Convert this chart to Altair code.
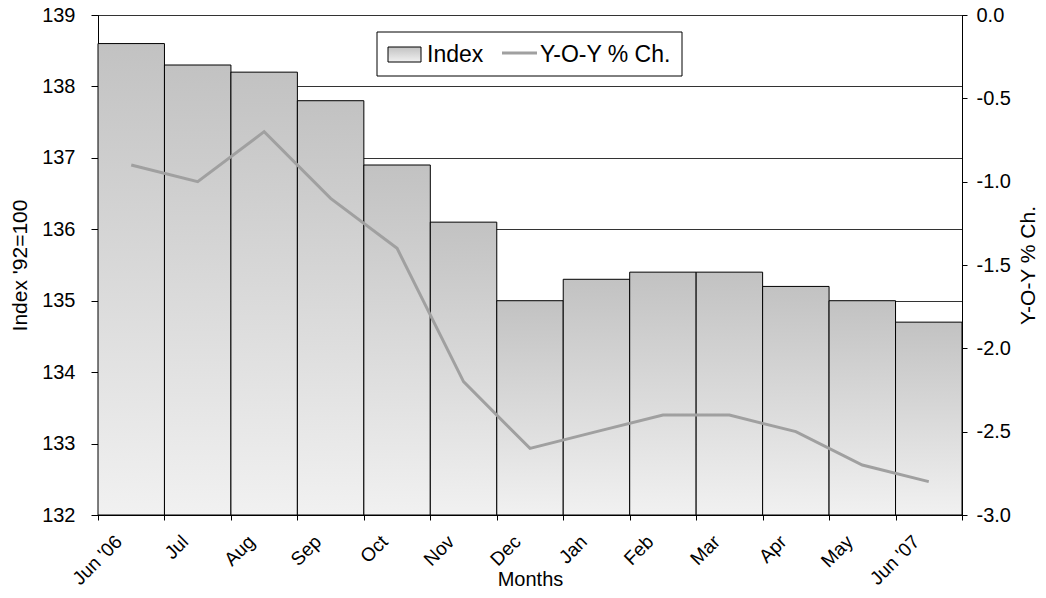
import json
import altair as alt
import pandas as pd

months = ["Jun '06", "Jul", "Aug", "Sep", "Oct", "Nov", "Dec", "Jan", "Feb", "Mar", "Apr", "May", "Jun '07"]
index_vals = [138.6, 138.3, 138.2, 137.8, 136.9, 136.1, 135.0, 135.3, 135.4, 135.4, 135.2, 135.0, 134.7]
yoy_vals = [-0.9, -1.0, -0.7, -1.1, -1.4, -2.2, -2.6, -2.5, -2.4, -2.4, -2.5, -2.7, -2.8]
left_ticks = [132, 133, 134, 135, 136, 137, 138, 139]
right_ticks = [-3.0, -2.5, -2.0, -1.5, -1.0, -0.5, 0.0]
legend_labels = ["Index", "Y-O-Y % Ch."]

df = pd.DataFrame({"month": months, "index": index_vals, "yoy": yoy_vals})
df["x0"] = list(range(len(months)))
df["x1"] = df["x0"] + 1
df["xc"] = df["x0"] + 0.5

leg_df = pd.DataFrame({"label": legend_labels})

FONT = "Liberation Sans"
TICK_FS = 20
TITLE_FS = 21

label_expr = json.dumps(months) + "[datum.value] || ''"

x_scale = alt.Scale(domain=[0, len(months)], nice=False, zero=False)
x_axis = alt.Axis(
    values=list(range(len(months) + 1)), labelExpr=label_expr,
    labelAngle=315, labelAlign="right", labelBaseline="top",
    labelOffset=14, labelPadding=12, tickSize=5, grid=False,
    labelOverlap=False, labelFlush=False,
    title="Months", titleX=432, titleY=54, titleBaseline="top", titleAlign="center",
    titleFontSize=20,
    domainColor="black", tickColor="black",
    labelFontSize=19,
)

left_axis = alt.Axis(
    values=left_ticks, grid=True, gridColor="#333333", gridWidth=1,
    tickSize=7, labelPadding=16, labelFontSize=TICK_FS,
    title="Index '92=100", titleFontSize=TITLE_FS, titleAngle=270,
    titleX=-78, titleY=250, titleAlign="center", titleBaseline="middle",
    domainColor="black", tickColor="black",
)

right_axis = alt.Axis(
    orient="right", values=right_ticks, grid=False,
    labelExpr="replace(format(datum.value, '.1f'), '\u2212', '-')",
    tickSize=5, labelPadding=9, labelFontSize=TICK_FS,
    title="Y-O-Y % Ch.", titleFontSize=TITLE_FS, titleAngle=270,
    titleX=66, titleY=250, titleAlign="center", titleBaseline="middle",
    domainColor="black", tickColor="black",
)

bar_grad = alt.Gradient(
    gradient="linear", x1=0, y1=0, x2=0, y2=1,
    stops=[alt.GradientStop(color="#c2c2c2", offset=0),
           alt.GradientStop(color="#f1f1f1", offset=1)],
)

bars = alt.Chart(df).mark_bar(fill=bar_grad, stroke="black", strokeWidth=1).encode(
    x=alt.X("x0:Q", scale=x_scale, axis=x_axis),
    x2="x1:Q",
    y=alt.Y("index:Q", scale=alt.Scale(domain=[132, 139], nice=False, zero=False), axis=left_axis),
    y2=alt.datum(132),
)

line = alt.Chart(df).mark_line(color="#a0a0a0", strokeWidth=3).encode(
    x=alt.X("xc:Q", scale=x_scale, axis=x_axis),
    y=alt.Y("yoy:Q", scale=alt.Scale(domain=[-3, 0], nice=False, zero=False), axis=right_axis),
)

first = alt.Chart(leg_df).transform_filter(alt.datum.label == legend_labels[0])
second = alt.Chart(leg_df).transform_filter(alt.datum.label == legend_labels[1])

leg_box = first.mark_rect(fill="white", stroke="black", strokeWidth=1).encode(
    x=alt.value(279), x2=alt.value(584), y=alt.value(17), y2=alt.value(61)
)
leg_sym = first.mark_rect(fill=bar_grad, stroke="black", strokeWidth=1).encode(
    x=alt.value(290), x2=alt.value(323), y=alt.value(32), y2=alt.value(47)
)
leg_txt1 = first.mark_text(align="left", baseline="alphabetic", fontSize=23, font=FONT, color="black").encode(
    x=alt.value(329), y=alt.value(47), text="label:N"
)
leg_line = second.mark_rule(color="#a0a0a0", strokeWidth=3).encode(
    x=alt.value(404), x2=alt.value(439), y=alt.value(38)
)
leg_txt2 = second.mark_text(align="left", baseline="alphabetic", fontSize=23, font=FONT, color="black").encode(
    x=alt.value(442), y=alt.value(47), text="label:N"
)

chart = alt.layer(bars, line, leg_box, leg_sym, leg_txt1, leg_line, leg_txt2).resolve_scale(
    y="independent"
).properties(
    width=864, height=500,
    autosize=alt.AutoSizeParams(type="none"),
    padding={"left": 90, "top": 7, "right": 76, "bottom": 75},
    background="white",
).configure_view(
    stroke="black", strokeWidth=1
).configure_axis(
    labelFont=FONT, titleFont=FONT, labelColor="black", titleColor="black",
    titleFontWeight="normal", domainWidth=1, tickWidth=1,
)

chart.save("out.html", embed_options={"renderer": "svg", "actions": False})
